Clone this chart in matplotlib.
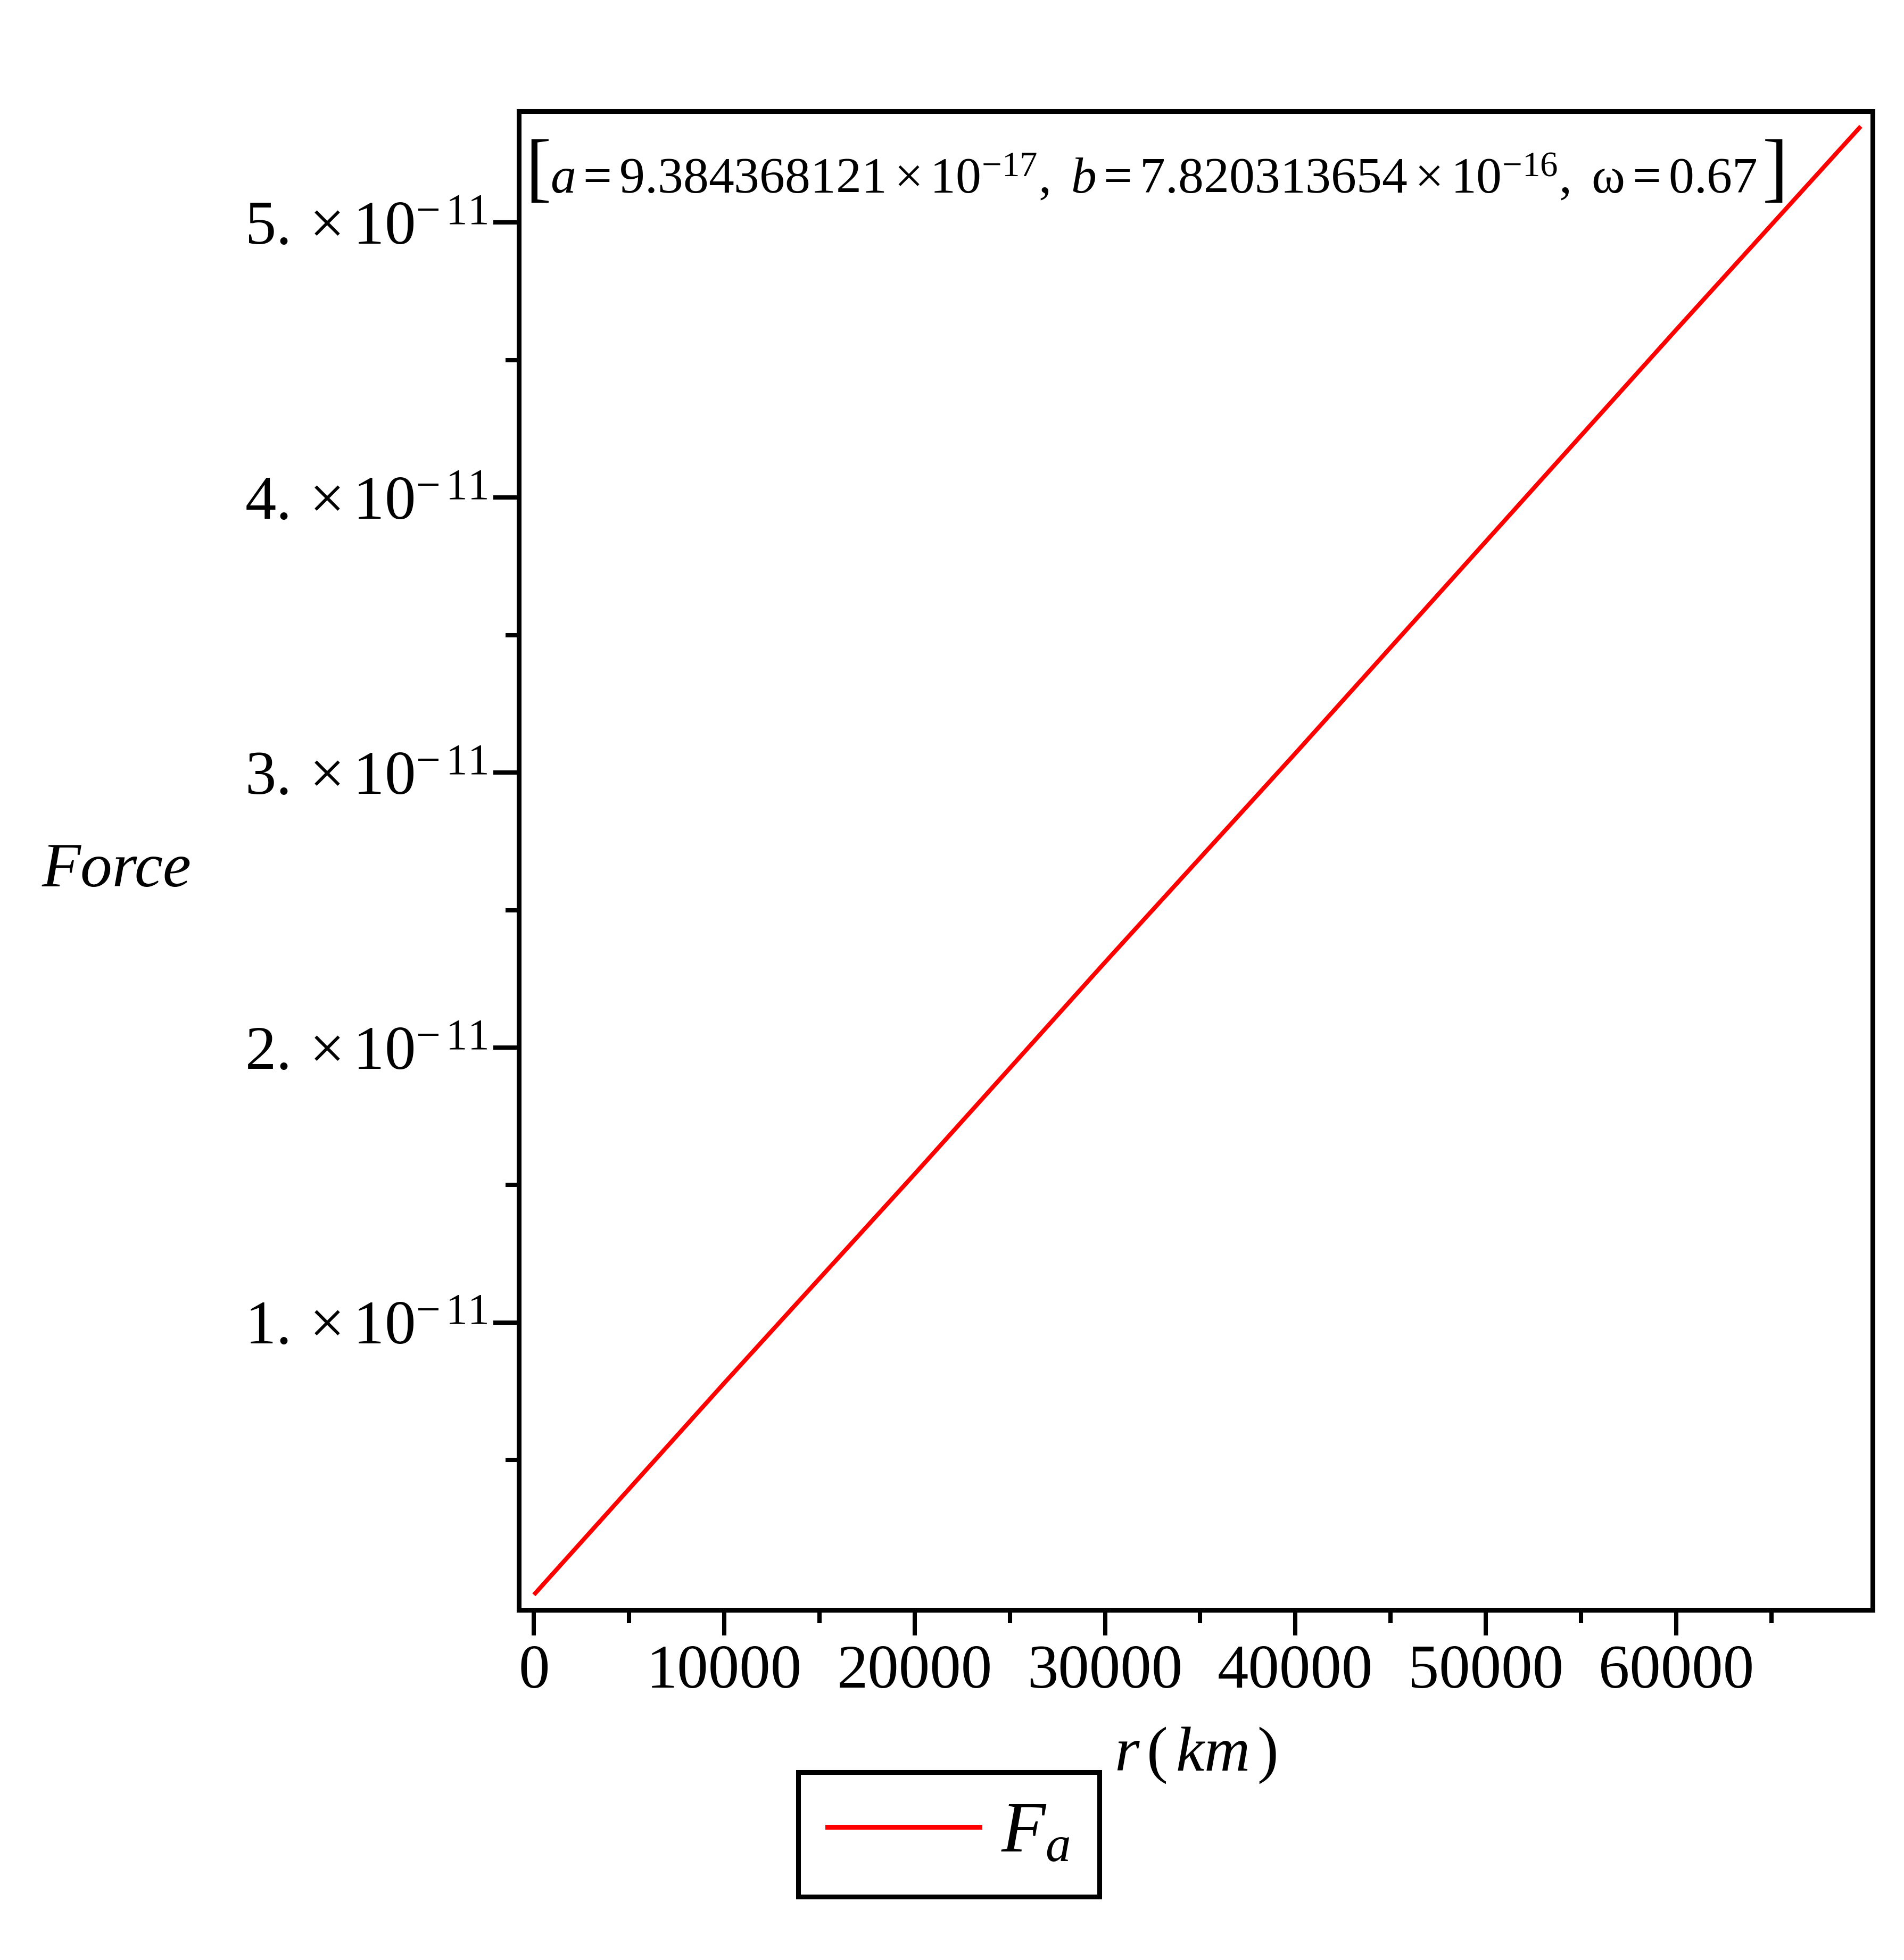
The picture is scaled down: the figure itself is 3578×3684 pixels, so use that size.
import matplotlib
matplotlib.use("Agg")
import matplotlib.pyplot as plt
from matplotlib.lines import Line2D

# ---- data ----
r_km = [0, 10000, 20000, 30000, 40000, 50000, 60000, 69700]
force = [0.01e-11, 0.78e-11, 1.54e-11, 2.31e-11, 3.07e-11, 3.84e-11, 4.61e-11, 5.35e-11]

x_major = [0, 10000, 20000, 30000, 40000, 50000, 60000]
x_major_labels = ["0", "10000", "20000", "30000", "40000", "50000", "60000"]
x_minor = [5000, 15000, 25000, 35000, 45000, 55000, 65000]

y_major = [1e-11, 2e-11, 3e-11, 4e-11, 5e-11]
y_major_labels = [r"$1.\times10^{-\,11}$", r"$2.\times10^{-\,11}$", r"$3.\times10^{-\,11}$",
                  r"$4.\times10^{-\,11}$", r"$5.\times10^{-\,11}$"]
y_minor = [0.5e-11, 1.5e-11, 2.5e-11, 3.5e-11, 4.5e-11]

annotation = (r"$a = 9.384368121\times10^{-17},\ b = 7.820313654\times10^{-16},"
              r"\ \mathrm{\omega} = 0.67$")
legend_label = r"$F_{a}$"

plt.rcParams["font.family"] = ["Liberation Serif", "DejaVu Serif"]
plt.rcParams["mathtext.fontset"] = "custom"
plt.rcParams["mathtext.rm"] = "Liberation Serif"
plt.rcParams["mathtext.it"] = "Liberation Serif:italic"
plt.rcParams["mathtext.bf"] = "Liberation Serif:bold"

DPI = 100
fig = plt.figure(figsize=(35.78, 36.84), dpi=DPI)
W, H = 3578, 3684
left, right, top, bottom = 975, 3519, 209, 3026
ax = fig.add_axes([left / W, 1 - bottom / H, (right - left) / W, (bottom - top) / H])

red = "#ff0000"
ax.plot(r_km, force, color=red, lw=5.8, solid_capstyle="butt")

ax.set_xlim(-790, 70320)
ax.set_ylim(-0.045e-11, 5.405e-11)

ax.set_xticks(x_major)
ax.set_xticklabels(x_major_labels)
ax.set_xticks(x_minor, minor=True)
ax.set_yticks(y_major)
ax.set_yticklabels(y_major_labels)
ax.set_yticks(y_minor, minor=True)

for s in ax.spines.values():
    s.set_linewidth(6.5)
    s.set_color("black")

ax.tick_params(axis="both", which="major", direction="out", length=34.5, width=5.8,
               labelsize=84, color="black")
ax.tick_params(axis="both", which="minor", direction="out", length=18, width=5.8, color="black")
ax.tick_params(axis="x", which="major", pad=12)
ax.tick_params(axis="y", which="major", pad=8)
ax.tick_params(top=False, right=False)

ax.set_ylabel("Force", fontsize=86, style="italic", rotation=0, va="center", ha="center")
ax.yaxis.set_label_coords(-0.297, 0.493)
ax.set_xlabel(r"$r\,\mathrm{(}\,km\,\mathrm{)}$", fontsize=86)
ax.xaxis.set_label_coords(0.5, -0.077)

# ---- annotation in the top-left of the axes ----
base_y = (bottom - 362) / (bottom - top)
fig.canvas.draw()
rend = fig.canvas.get_renderer()
probe = ax.text(0, 0, annotation, fontsize=100, transform=ax.transAxes)
w100 = probe.get_window_extent(rend).width
probe.remove()
target_w = 2267.0
fs = 100 * target_w / w100
x0 = (1034 - left) / (right - left)
ax.text(0.0047, base_y, "[", transform=ax.transAxes, fontsize=104, ha="left", va="baseline")
t = ax.text(x0, base_y, annotation, transform=ax.transAxes, fontsize=fs,
            ha="left", va="baseline")
ext = t.get_window_extent(rend)
xr = (ext.x1 + 10 - ax.bbox.x0) / ax.bbox.width
ax.text(xr, base_y, "]", transform=ax.transAxes, fontsize=104, ha="left", va="baseline")

handle = Line2D([], [], color=red, lw=6.5)
leg = fig.legend([handle], [legend_label], loc="center",
                 bbox_to_anchor=(1783 / W, 1 - 3448 / H), fontsize=98,
                 frameon=True, fancybox=False, edgecolor="black", framealpha=1,
                 handlelength=2.1, handletextpad=0.3, borderpad=0.4)
leg.get_frame().set_linewidth(6.5)

fig.savefig("out.png", dpi=DPI, facecolor="white")
